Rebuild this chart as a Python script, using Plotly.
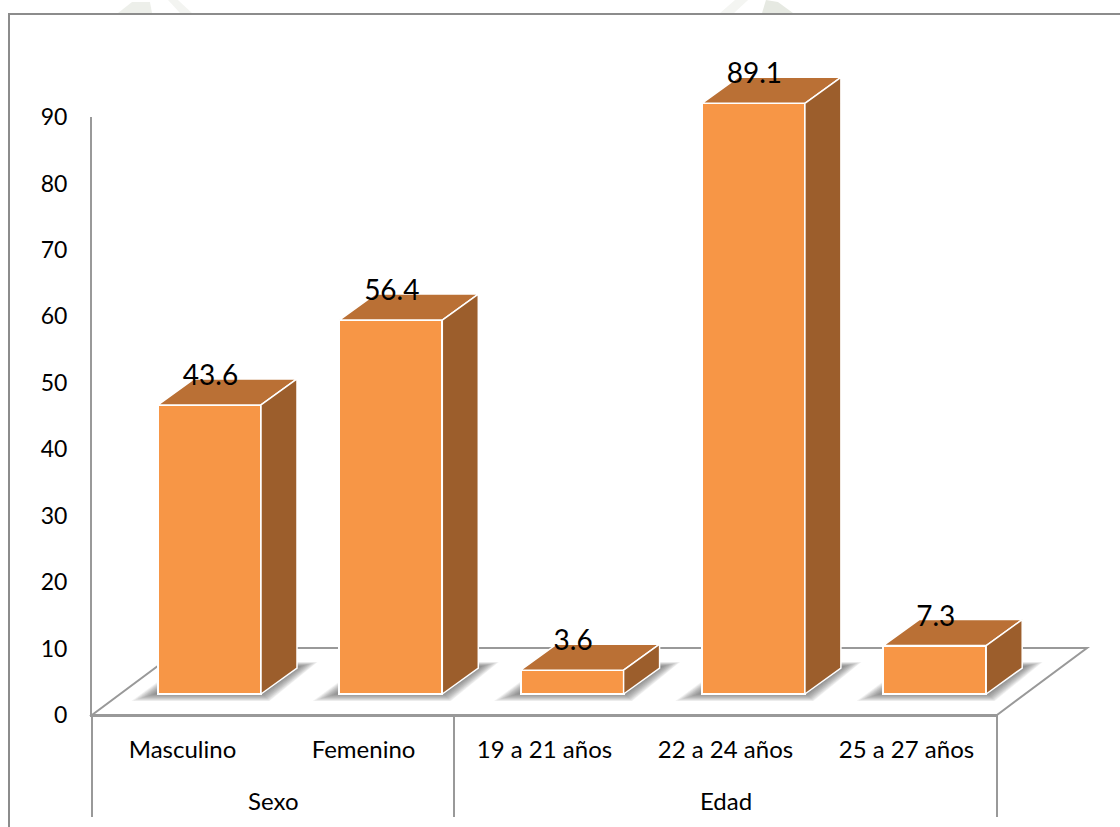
import plotly.graph_objects as go

# Survey profile: percentage of respondents by sex and age band
groups = ["Sexo", "Sexo", "Edad", "Edad", "Edad"]
categories = ["Masculino", "Femenino", "19 a 21 años", "22 a 24 años", "25 a 27 años"]
percent = [43.6, 56.4, 3.6, 89.1, 7.3]
y_ticks = [0, 10, 20, 30, 40, 50, 60, 70, 80, 90]

W, H = 1120, 827
FRONT, TOP, SIDE = "#F79646", "#BA7035", "#9C5E2C"
LINE = "#999999"
INK = "#000000"
FONT = "Lato"

# Pixel layout of the pseudo-3D scene
BAR_Y0 = 694.0       # baseline of the bars' front faces
PX_PER_UNIT = 6.63   # vertical scale of the bars
BAR_X0 = 209.5       # centre of the first bar
BAR_STEP = 181.3     # distance between bars
BAR_W = 103.0
DEPTH_X, DEPTH_Y = 36.0, 26.0
AXIS_L, AXIS_R = 92.0, 997.0
AXIS_BASE, AXIS_TOP = 715.0, 117.0
AXIS_FOOT = 817.0    # lower end of the category dividers
FLOOR_BACK_Y = 648.0
FLOOR_DX = 90.0


def ux(px):
    return (px - BAR_X0) / BAR_STEP


def uy(py):
    return (BAR_Y0 - py) / PX_PER_UNIT


half = BAR_W / 2 / BAR_STEP
dx = DEPTH_X / BAR_STEP
dy = DEPTH_Y / PX_PER_UNIT
positions = list(range(len(percent)))

fig = go.Figure()

# Invisible trace that gives the lower axis its categories
fig.add_trace(go.Bar(x=categories, y=percent, xaxis="x", yaxis="y2",
                     marker=dict(opacity=0), hoverinfo="skip", showlegend=False))

# Front faces
fig.add_trace(go.Bar(x=positions, y=percent, width=BAR_W / BAR_STEP, xaxis="x2", yaxis="y",
                     marker=dict(color=FRONT, line=dict(color="#FFFFFF", width=2)),
                     showlegend=False))

# Top and side faces, derived from each bar's value
for i, v in zip(positions, percent):
    l, r = i - half, i + half
    fig.add_trace(go.Scatter(x=[l, r, r + dx, l + dx, l], y=[v, v, v + dy, v + dy, v],
                             xaxis="x2", yaxis="y", mode="lines", fill="toself", fillcolor=TOP,
                             line=dict(color="#FFFFFF", width=1.5), hoverinfo="skip", showlegend=False))
    fig.add_trace(go.Scatter(x=[r, r + dx, r + dx, r, r], y=[0, dy, v + dy, v, 0],
                             xaxis="x2", yaxis="y", mode="lines", fill="toself", fillcolor=SIDE,
                             line=dict(color="#FFFFFF", width=1.5), hoverinfo="skip", showlegend=False))

# Value labels sit over the top faces
fig.add_trace(go.Scatter(x=[i + 1 / BAR_STEP for i in positions],
                         y=[v + 27 / PX_PER_UNIT for v in percent],
                         text=[f"{v:.1f}" for v in percent], mode="text", xaxis="x2", yaxis="y",
                         textfont=dict(family=FONT, size=28, color=INK), cliponaxis=False,
                         hoverinfo="skip", showlegend=False))

shapes = []


def poly(points):
    return "M " + " L ".join(f"{x:.4f},{y:.4f}" for x, y in points) + " Z"


# Floor outline
floor = [(AXIS_L + FLOOR_DX, FLOOR_BACK_Y), (AXIS_R + FLOOR_DX, FLOOR_BACK_Y), (AXIS_R, AXIS_BASE), (AXIS_L, AXIS_BASE)]
shapes.append(dict(type="path", xref="x2", yref="y", layer="below",
                   path=poly([(ux(a), uy(b)) for a, b in floor]),
                   line=dict(color=LINE, width=2), fillcolor="rgba(0,0,0,0)"))

# Soft floor shadow built from stacked translucent footprints
for i in positions:
    cx = BAR_X0 + i * BAR_STEP
    inner = [(cx - 51, BAR_Y0 - 1), (cx + 52, BAR_Y0 - 1), (cx + 88, BAR_Y0 - 27), (cx - 15, BAR_Y0 - 27)]
    outer = [(cx - 78, BAR_Y0 + 7), (cx + 60, BAR_Y0 + 7), (cx + 108, BAR_Y0 - 32), (cx - 25, BAR_Y0 - 32)]
    n = 14
    for k in range(n):
        t = 1 - k / (n - 1)
        pts = [(a + (c - a) * t, b + (d - b) * t) for (a, b), (c, d) in zip(inner, outer)]
        shapes.append(dict(type="path", xref="x2", yref="y", layer="below",
                           path=poly([(ux(a), uy(b)) for a, b in pts]),
                           line=dict(width=0), fillcolor="rgba(80,80,80,0.075)"))

# Chart frame: left and top edges only
shapes.append(dict(type="path", xref="paper", yref="paper", layer="below",
                   path=f"M {9 / W},0 L {9 / W},{1 - 14 / H} L 1,{1 - 14 / H}",
                   line=dict(color="#8C8C8C", width=2), fillcolor="rgba(0,0,0,0)"))

# Dividers under the axis: both ends and every change of group
edges = [-0.5] + [i - 0.5 for i in positions[1:] if groups[i] != groups[i - 1]] + [len(groups) - 0.5]
x_span = (AXIS_R - AXIS_L) / len(groups)
for e in edges:
    px = AXIS_L + (e + 0.5) * x_span
    shapes.append(dict(type="line", xref="paper", yref="paper",
                       x0=px / W, x1=px / W, y0=1 - AXIS_BASE / H, y1=1 - AXIS_FOOT / H,
                       line=dict(color=LINE, width=2)))

# Group names centred under their categories
annotations = []
for name in dict.fromkeys(groups):
    members = [i for i in positions if groups[i] == name]
    annotations.append(dict(x=sum(members) / len(members), xref="x", y=1 - 800 / H, yref="paper",
                            text=name, showarrow=False, xanchor="center", yanchor="middle",
                            font=dict(family=FONT, size=24, color=INK)))

# Faint watermark remnants along the upper edge
wash = [
    ([(118, 13), (132, 2), (150, 2), (152, 13)], "#EDEFEA"),
    ([(168, 0), (178, 0), (192, 13), (180, 13)], "#F3F4F1"),
    ([(720, 13), (735, 0), (748, 0), (734, 13)], "#F4F5F2"),
    ([(762, 13), (766, 0), (778, 2), (793, 13)], "#E6E9E2"),
]
for pts, colour in wash:
    shapes.append(dict(type="path", xref="paper", yref="paper", layer="below",
                       path=poly([(a / W, 1 - b / H) for a, b in pts]),
                       line=dict(width=0), fillcolor=colour))

fig.update_layout(
    width=W, height=H, margin=dict(l=0, r=0, t=0, b=0, autoexpand=False),
    paper_bgcolor="#FFFFFF", plot_bgcolor="rgba(0,0,0,0)",
    showlegend=False, bargap=0, shapes=shapes, annotations=annotations,
    font=dict(family=FONT, color=INK, size=24),
    xaxis=dict(domain=[AXIS_L / W, AXIS_R / W], anchor="y2", type="category",
               categoryorder="array", categoryarray=categories,
               showline=True, linecolor=LINE, linewidth=2, showgrid=False, ticks="",
               ticklabelstandoff=12, tickfont=dict(family=FONT, size=24, color=INK)),
    yaxis2=dict(domain=[(H - AXIS_BASE) / H, (H - AXIS_TOP) / H], anchor="x", range=[0, 90],
                tickvals=y_ticks, showline=True, linecolor=LINE, linewidth=2, showgrid=False,
                zeroline=False, ticks="", ticklabelstandoff=18,
                tickfont=dict(family=FONT, size=23, color=INK)),
    xaxis2=dict(domain=[0, 1], anchor="y", range=[ux(0), ux(W)], visible=False),
    yaxis=dict(domain=[0, 1], anchor="x2", range=[uy(H), uy(0)], visible=False),
)

fig.write_html("out.html")
